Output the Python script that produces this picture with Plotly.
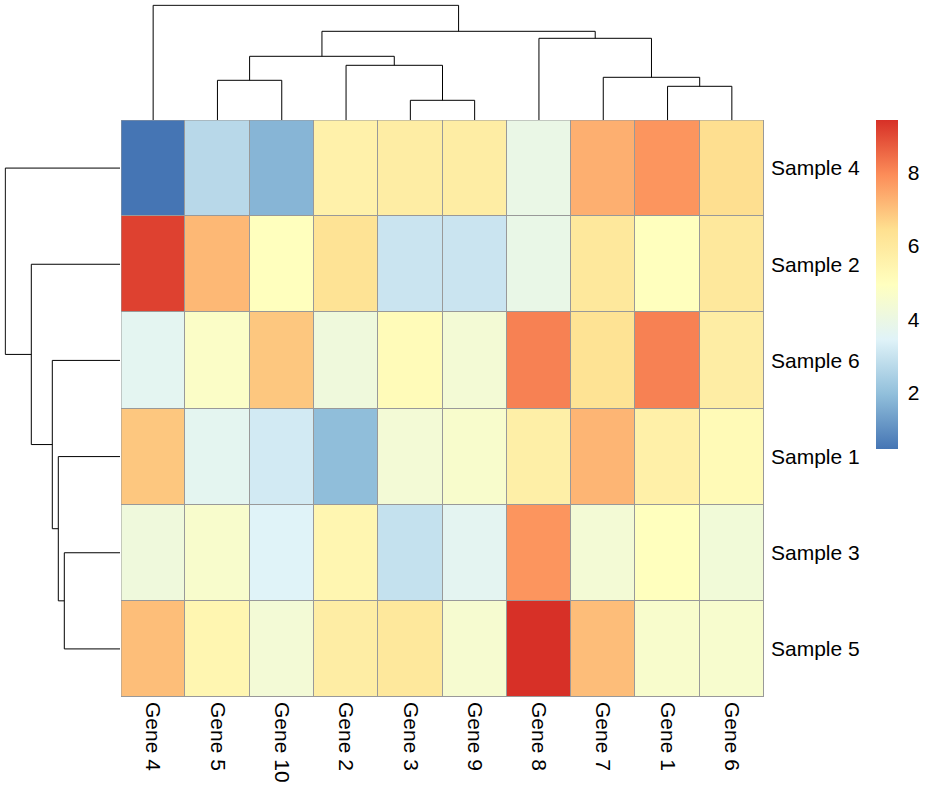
import plotly.graph_objects as go

# ---------------- data ----------------
genes = ["Gene 4", "Gene 5", "Gene 10", "Gene 2", "Gene 3",
         "Gene 9", "Gene 8", "Gene 7", "Gene 1", "Gene 6"]
samples = ["Sample 4", "Sample 2", "Sample 6", "Sample 1", "Sample 3", "Sample 5"]

values = [
    [0.48, 2.70, 1.77, 5.62, 5.81, 5.80, 3.94, 7.32, 7.79, 6.45],  # Sample 4
    [9.15, 7.16, 4.97, 6.29, 3.04, 3.04, 3.90, 6.05, 4.97, 6.05],  # Sample 2
    [3.65, 4.74, 6.89, 4.18, 5.14, 4.37, 8.12, 6.30, 8.12, 5.80],  # Sample 6
    [6.89, 3.66, 3.20, 1.95, 4.35, 4.60, 5.70, 7.21, 5.67, 5.20],  # Sample 1
    [4.18, 4.60, 3.46, 5.38, 2.93, 3.63, 7.79, 4.37, 4.97, 4.30],  # Sample 3
    [7.05, 5.38, 4.35, 5.80, 6.05, 4.50, 9.42, 7.06, 4.60, 4.55],  # Sample 5
]

# linkage in display order: (left, right, height); ids >= n refer to earlier merges
col_merges = [
    (4, 5, 19.7), (8, 9, 33.7), (1, 2, 39.7), (7, 11, 42.7), (3, 10, 54.7),
    (12, 14, 63.7), (6, 13, 81.7), (15, 16, 88.7), (0, 17, 114.7),
]
row_merges = [
    (4, 5, 55.7), (3, 6, 61.7), (2, 7, 67.7), (1, 8, 88.7), (0, 9, 114.7),
]

colorbar_ticks = [2, 4, 6, 8]
palette = ["#4575B4", "#91BFDB", "#E0F3F8", "#FFFFBF", "#FEE090", "#FC8D59", "#D73027"]

# ---------------- helpers ----------------
def dendro_segments(merges, n):
    pos = {i: float(i) for i in range(n)}
    hgt = {i: 0.0 for i in range(n)}
    p, h = [], []
    for k, (a, b, ht) in enumerate(merges):
        p += [pos[a], pos[a], pos[b], pos[b], None]
        h += [hgt[a], ht, ht, hgt[b], None]
        pos[n + k] = (pos[a] + pos[b]) / 2
        hgt[n + k] = ht
    return p, h

W, H = 938, 801

def px(x):
    return x / W

def py(y):
    return 1 - y / H

hx0, hx1 = px(121), px(764)
hy0, hy1 = py(697), py(120)
FONT = "Liberation Sans, Arial, sans-serif"

vmin = min(min(r) for r in values)
vmax = max(max(r) for r in values)
cscale = [[i / (len(palette) - 1), c] for i, c in enumerate(palette)]

fig = go.Figure()

fig.add_trace(go.Heatmap(
    z=values, x=list(range(len(genes))), y=list(range(len(samples))),
    colorscale=cscale, zmin=vmin, zmax=vmax, xgap=1, ygap=1,
    xaxis="x", yaxis="y",
    colorbar=dict(
        x=px(876), xanchor="left", y=hy1, yanchor="top",
        thickness=22, thicknessmode="pixels", len=329, lenmode="pixels",
        outlinewidth=0, tickvals=colorbar_ticks, xpad=0, ypad=0,
        ticks="outside", ticklen=6, tickcolor="rgba(0,0,0,0)",
        tickfont=dict(family=FONT, size=21, color="black"),
    ),
))

cx, cy = dendro_segments(col_merges, len(genes))
fig.add_trace(go.Scatter(x=cx, y=cy, mode="lines", xaxis="x2", yaxis="y2",
                         line=dict(color="black", width=1), hoverinfo="skip",
                         showlegend=False))
ry, rx = dendro_segments(row_merges, len(samples))
fig.add_trace(go.Scatter(x=rx, y=ry, mode="lines", xaxis="x3", yaxis="y3",
                         line=dict(color="black", width=1), hoverinfo="skip",
                         showlegend=False))

top_h = max(m[2] for m in col_merges)
left_h = max(m[2] for m in row_merges)
nc, nr = len(genes), len(samples)

hidden = dict(showgrid=False, zeroline=False, showticklabels=False,
              showline=False, ticks="")

fig.update_layout(
    width=W, height=H, margin=dict(l=0, r=0, t=0, b=0),
    paper_bgcolor="white", plot_bgcolor="white", showlegend=False,
    xaxis=dict(domain=[hx0, hx1], range=[-0.5, nc - 0.5], anchor="y",
               tickvals=list(range(nc)), ticktext=genes, tickangle=90,
               ticks="", showgrid=False, zeroline=False, showline=False,
               ticklabelstandoff=4,
               tickfont=dict(family=FONT, size=21, color="black")),
    yaxis=dict(domain=[hy0, hy1], range=[nr - 0.5, -0.5], anchor="x",
               side="right", tickvals=list(range(nr)), ticktext=samples,
               ticks="", showgrid=False, zeroline=False, showline=False,
               ticklabelstandoff=6,
               tickfont=dict(family=FONT, size=21, color="black")),
    xaxis2=dict(domain=[hx0, hx1], range=[-0.5, nc - 0.5], anchor="y2", **hidden),
    yaxis2=dict(domain=[hy1, py(4.3)], range=[0, top_h * 115.7 / 114.7],
                anchor="x2", **hidden),
    xaxis3=dict(domain=[px(4.3), px(120)], range=[left_h * 115.7 / 114.7, 0],
                anchor="y3", **hidden),
    yaxis3=dict(domain=[hy0, hy1], range=[nr - 0.5, -0.5], anchor="x3", **hidden),
    shapes=[
        dict(type="rect", xref="x", yref="y", x0=-0.5, x1=nc - 0.5,
             y0=-0.5, y1=nr - 0.5, fillcolor="#999999",
             line=dict(width=0), layer="below"),
        dict(type="rect", xref="x", yref="y", x0=-0.5, x1=nc - 0.5,
             y0=-0.5, y1=nr - 0.5, fillcolor="rgba(0,0,0,0)",
             line=dict(width=1, color="#999999"), layer="above"),
    ],
)

# remove the browser's default 8px page margin so the figure sits at (0, 0)
fig.write_html("out.html",
               config={"displayModeBar": False},
               post_script="document.body.style.margin='0';"
                           "document.body.style.overflow='hidden';")
